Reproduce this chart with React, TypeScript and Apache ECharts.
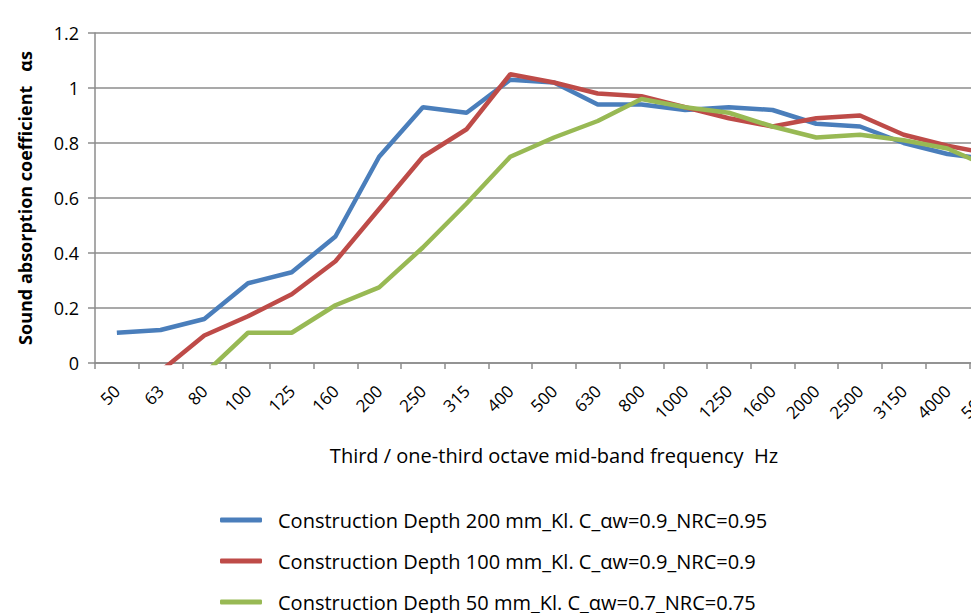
import React, { useEffect, useRef } from "react";
import * as echarts from "echarts";

const categories = ["50", "63", "80", "100", "125", "160", "200", "250", "315", "400", "500", "630", "800", "1000", "1250", "1600", "2000", "2500", "3150", "4000", "5000"];
const depth200 = [0.11, 0.12, 0.16, 0.29, 0.33, 0.46, 0.75, 0.93, 0.91, 1.03, 1.02, 0.94, 0.94, 0.92, 0.93, 0.92, 0.87, 0.86, 0.8, 0.76, 0.74];
const depth100 = [-0.1, -0.03, 0.1, 0.17, 0.25, 0.37, 0.56, 0.75, 0.85, 1.05, 1.02, 0.98, 0.97, 0.93, 0.89, 0.86, 0.89, 0.9, 0.83, 0.79, 0.76];
const depth50 = [-0.2, -0.15, -0.04, 0.11, 0.11, 0.21, 0.275, 0.42, 0.58, 0.75, 0.82, 0.88, 0.96, 0.93, 0.91, 0.86, 0.82, 0.83, 0.81, 0.78, 0.71];
const seriesNames = [
  "Construction Depth 200 mm_Kl. C_αw=0.9_NRC=0.95",
  "Construction Depth 100 mm_Kl. C_αw=0.9_NRC=0.9",
  "Construction Depth 50 mm_Kl. C_αw=0.7_NRC=0.75",
];
const colors = ["#4A7EBB", "#BE4B48", "#98B954"];

const FONT = "'Open Sans', sans-serif";
const INNER_H = 700;

export default function App() {
  const ref = useRef<HTMLDivElement>(null);
  useEffect(() => {
    if (!ref.current) return;
    const chart = echarts.init(ref.current, undefined, { renderer: "svg" });
    const values = [depth200, depth100, depth50];
    chart.setOption({
      animation: false,
      color: colors,
      textStyle: { fontFamily: FONT, color: "#000" },
      grid: { left: 95, right: 7, top: 33, bottom: INNER_H - 363, containLabel: false },
      legend: {
        orient: "vertical",
        left: 220,
        top: 510,
        padding: 0,
        itemGap: 21,
        itemWidth: 42,
        itemHeight: 5,
        icon: "roundRect",
        textStyle: { fontFamily: FONT, fontSize: 20, color: "#000", padding: [0, 0, 0, 11] },
        data: seriesNames,
      },
      xAxis: {
        type: "category",
        data: categories,
        boundaryGap: true,
        name: "Third / one-third octave mid-band frequency  Hz",
        nameLocation: "middle",
        nameGap: 82,
        nameTextStyle: { fontFamily: FONT, fontSize: 20, color: "#000" },
        axisLine: { lineStyle: { color: "#8c8c8c", width: 1.5 } },
        axisTick: { show: true, alignWithLabel: false, length: 6, lineStyle: { color: "#8c8c8c", width: 1.5 } },
        axisLabel: {
          rotate: 45,
          fontSize: 17,
          color: "#000",
          margin: 25,
          interval: 0,
          fontFamily: FONT,
        },
        splitLine: { show: false },
      },
      yAxis: {
        type: "value",
        min: 0,
        max: 1.2,
        interval: 0.2,
        name: "Sound absorption coefficient   αs",
        nameLocation: "middle",
        nameGap: 61,
        nameTextStyle: { fontFamily: FONT, fontSize: 18, fontWeight: "bold", color: "#000" },
        axisLine: { show: true, lineStyle: { color: "#8c8c8c", width: 1.5 } },
        axisTick: { show: true, length: 7, lineStyle: { color: "#8c8c8c", width: 1.5 } },
        axisLabel: {
          fontSize: 18,
          color: "#000",
          margin: 16,
          fontFamily: FONT,
          formatter: (v: number) => String(Math.round(v * 10) / 10),
        },
        splitLine: { show: true, lineStyle: { color: "#8c8c8c", width: 1.5 } },
      },
      series: seriesNames.map((name, i) => ({
        name,
        type: "line",
        data: values[i],
        symbol: "none",
        clip: true,
        lineStyle: { width: 4.5, color: colors[i] },
        itemStyle: { color: colors[i] },
      })),
    });
    return () => chart.dispose();
  }, []);
  return (
    <div style={{ position: "absolute", left: 0, top: 0, width: 971, height: 613, overflow: "hidden", background: "#fff" }}>
      <div ref={ref} style={{ width: 1020, height: INNER_H }} />
    </div>
  );
}
